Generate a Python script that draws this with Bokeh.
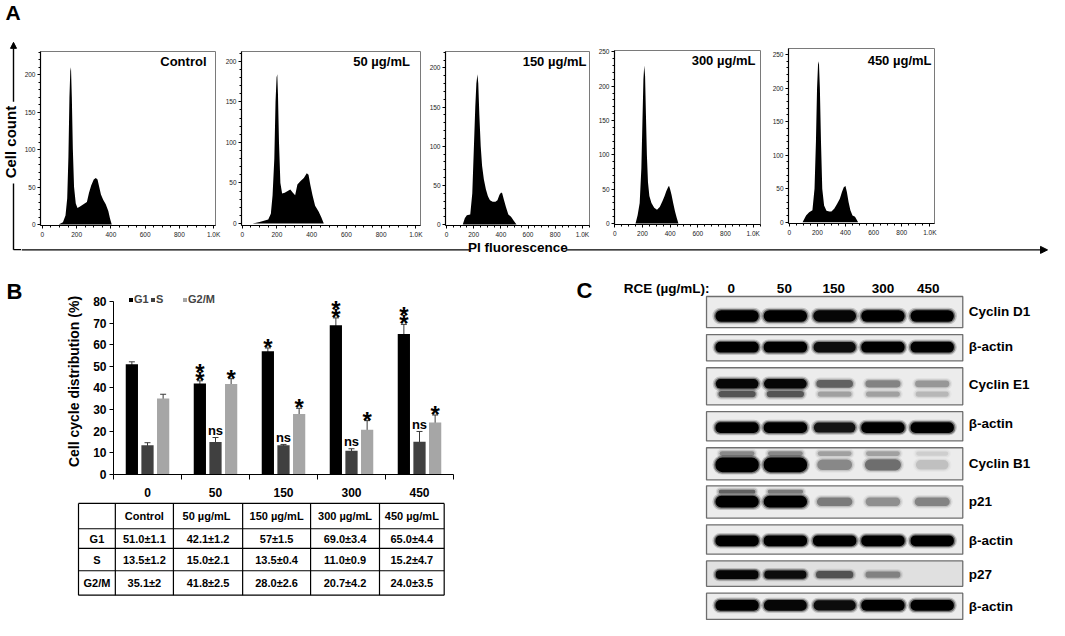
import math
from bokeh.plotting import figure
from bokeh.layouts import row, column
from bokeh.models import (Range1d, FixedTicker, SingleIntervalTicker, Label, Arrow,
                          NormalHead, Legend, LegendItem, Whisker, TeeHead, ColumnDataSource)
from bokeh.core.properties import value
from bokeh.embed import file_html
from bokeh.resources import INLINE

# ---------------- DATA ----------------
# Panel A: DNA histograms (PI fluorescence channel, cell count)
ctrl_x = [95, 120, 135, 145, 152, 158, 163, 167, 172, 178, 185, 195, 205, 220, 240, 260, 272, 285, 300, 312, 322, 332, 342, 355, 370, 385, 395, 405]
ctrl_n = [0, 3, 12, 35, 90, 170, 205, 210, 170, 100, 50, 28, 22, 24, 27, 30, 42, 52, 60, 62, 60, 50, 40, 33, 27, 18, 8, 0]
d50_x = [60, 100, 150, 165, 175, 185, 192, 198, 202, 206, 212, 220, 230, 245, 262, 277, 292, 305, 318, 335, 355, 372, 382, 392, 405, 420, 440, 455, 470]
d50_n = [0, 2, 5, 12, 35, 80, 150, 180, 184, 160, 100, 50, 37, 38, 40, 42, 38, 35, 48, 52, 56, 62, 60, 48, 35, 22, 15, 8, 0]
d150_x = [120, 135, 150, 175, 190, 202, 212, 220, 228, 234, 242, 252, 262, 275, 290, 305, 320, 340, 360, 375, 390, 402, 410, 422, 438, 455, 475, 495, 515]
d150_n = [0, 8, 12, 13, 40, 100, 150, 180, 192, 180, 140, 100, 75, 58, 45, 36, 31, 29, 29, 31, 38, 41, 40, 32, 22, 13, 10, 5, 0]
d300_x = [150, 165, 180, 192, 200, 207, 213, 219, 225, 232, 240, 250, 265, 285, 305, 325, 345, 360, 372, 385, 392, 400, 410, 422, 435, 448, 460]
d300_n = [0, 12, 30, 80, 150, 210, 230, 215, 160, 100, 60, 40, 30, 23, 20, 24, 33, 40, 47, 53, 55, 50, 42, 30, 18, 8, 0]
d450_x = [95, 120, 142, 165, 180, 190, 198, 205, 211, 218, 226, 235, 248, 265, 285, 300, 320, 340, 360, 375, 388, 400, 410, 422, 435, 450, 468, 490]
d450_n = [0, 10, 15, 18, 50, 120, 200, 235, 240, 200, 120, 50, 25, 17, 16, 16, 20, 27, 35, 45, 52, 54, 45, 30, 18, 10, 8, 0]
hist_labels = ["Control", "50  µg/mL", "150 µg/mL", "300 µg/mL", "450 µg/mL"]

# Panel B: cell-cycle distribution (%)
doses = ["0", "50", "150", "300", "450"]
phases = ["G1", "S", "G2/M"]
g1_mean = [51.0, 42.1, 57.0, 69.0, 65.0]
g1_err = [1.1, 1.2, 1.5, 3.4, 4.4]
s_mean = [13.5, 15.0, 13.5, 11.0, 15.2]
s_err = [1.2, 2.1, 0.4, 0.9, 4.7]
g2m_mean = [35.1, 41.8, 28.0, 20.7, 24.0]
g2m_err = [2.0, 2.5, 2.6, 4.2, 3.5]
g1_sig = ["", "**", "*", "**", "**"]
s_sig = ["", "ns", "ns", "ns", "ns"]
g2m_sig = ["", "*", "*", "*", "*"]
y_ticks = [0, 10, 20, 30, 40, 50, 60, 70, 80]

table_header = ["", "Control", "50  µg/mL", "150 µg/mL", "300 µg/mL", "450 µg/mL"]
table_rows = ["G1", "S", "G2/M"]
table_g1 = ["51.0±1.1", "42.1±1.2", "57±1.5", "69.0±3.4", "65.0±4.4"]
table_s = ["13.5±1.2", "15.0±2.1", "13.5±0.4", "11.0±0.9", "15.2±4.7"]
table_g2m = ["35.1±2", "41.8±2.5", "28.0±2.6", "20.7±4.2", "24.0±3.5"]

# Panel C: western blot band darkness (0 = none, 1 = saturated)
blot_lanes = ["0", "50", "150", "300", "450"]
blot_proteins = ["Cyclin D1", "β-actin", "Cyclin E1", "β-actin", "Cyclin B1", "p21", "β-actin", "p27", "β-actin"]
cyclin_d1 = [1.0, 1.0, 0.95, 1.0, 1.0]
actin_1 = [1.0, 1.0, 0.9, 1.0, 1.0]
cyclin_e1 = [0.95, 0.95, 0.45, 0.32, 0.25]
cyclin_e1_lower = [0.5, 0.5, 0.22, 0.22, 0.15]
actin_2 = [1.0, 1.0, 0.85, 1.0, 1.0]
cyclin_b1 = [1.0, 1.0, 0.3, 0.4, 0.12]
cyclin_b1_upper = [0.3, 0.3, 0.22, 0.22, 0.08]
p21 = [1.0, 1.0, 0.35, 0.28, 0.32]
p21_upper = [0.45, 0.35, 0.0, 0.0, 0.0]
actin_3 = [1.0, 1.0, 1.0, 1.0, 1.0]
p27 = [0.95, 0.9, 0.5, 0.3, 0.0]
actin_4 = [1.0, 0.95, 0.9, 1.0, 1.0]

# ---------------- LAYOUT HELPERS ----------------
SX = 1049 / 1065
SY = 620 / 636


def sx(v):
    return int(round(v * SX))


def sy(v):
    return int(round(v * SY))


FONT = "Liberation Sans"


def px_fig(x0, x1, y0, y1):
    p = figure(width=sx(x1) - sx(x0), height=sy(y1) - sy(y0),
               x_range=Range1d(x0, x1), y_range=Range1d(y1, y0),
               output_backend="svg", toolbar_location=None,
               x_axis_location=None, y_axis_location=None,
               min_border=0, min_border_left=0, min_border_right=0,
               min_border_top=0, min_border_bottom=0)
    p.grid.visible = False
    p.outline_line_color = None
    return p


def txt(p, x, y, t, size, align="left", baseline="middle", bold=True, angle=0, color="black"):
    p.text(x=x, y=y, text=t, text_font=value(FONT), text_font_size=size,
           text_font_style="bold" if bold else "normal", text_align=align,
           text_baseline=baseline, angle=angle, text_color=color)


# ---------------- PANEL A ----------------
pa = px_fig(0, 21, 0, 262)
txt(pa, [5], [12], ["A"], "21px")
txt(pa, [9.5], [145.5], ["Cell count"], "15px", align="center", angle=math.pi / 2)
pa.segment(x0=[13, 13], y0=[256, 256], x1=[13, 21], y1=[188, 256], line_color="black", line_width=1.4)
pa.add_layout(Arrow(end=NormalHead(size=6, fill_color="black", line_color="black"),
                    x_start=13, y_start=104, x_end=13, y_end=43, line_color="black", line_width=1.4))

ppi = px_fig(21, 1065, 246, 262)
ppi.segment(x0=[21], y0=[256], x1=[476], y1=[256], line_color="black", line_width=1.4)
ppi.add_layout(Arrow(end=NormalHead(size=7, fill_color="black", line_color="black"),
                     x_start=574, y_start=256, x_end=1063, y_end=256, line_color="black", line_width=1.4))
txt(ppi, [525], [253], ["PI fluorescence"], "13.5px", align="center")


def hist_fig(x0, x1, fl, fr, ft, fb, xr, yr, xs, ns, label, inset, drop):
    p = figure(width=sx(x1) - sx(x0), height=sy(246),
               x_range=Range1d(*xr), y_range=Range1d(*yr),
               output_backend="svg", toolbar_location=None,
               min_border_left=sx(fl) - sx(x0), min_border_right=sx(x1) - sx(fr),
               min_border_top=sy(ft), min_border_bottom=sy(246) - sy(fb))
    p.varea(x=xs, y1=[0] * len(xs), y2=ns, fill_color="black")
    p.grid.visible = False
    p.outline_line_color = "#7a7a7a"
    p.xaxis.ticker = SingleIntervalTicker(interval=200, num_minor_ticks=4)
    p.yaxis.ticker = SingleIntervalTicker(interval=50, num_minor_ticks=5)
    p.xaxis.major_label_overrides = {1000: "1.0K"}
    for ax in (p.xaxis[0], p.yaxis[0]):
        ax.major_label_text_font = FONT
        ax.major_label_text_font_size = "6.5px"
        ax.major_label_text_color = "#222222"
        ax.major_tick_out = 3
        ax.major_tick_in = 0
        ax.minor_tick_out = 2
        ax.minor_tick_in = 0
        ax.axis_line_color = "black"
        ax.axis_line_width = 1.2
        ax.major_tick_line_color = "black"
        ax.minor_tick_line_color = "black"
        ax.major_label_standoff = 2
    p.add_layout(Label(x=xr[1], y=yr[1], x_offset=-inset, y_offset=-drop, text=label,
                       text_align="right", text_baseline="middle", text_font=FONT,
                       text_font_size="13px", text_font_style="bold", text_color="black"))
    return p


h1 = hist_fig(21, 224, 37, 218, 52, 232, (-11, 1011), (-1.3, 231), ctrl_x, ctrl_n, hist_labels[0], 9, 9.5)
h2 = hist_fig(224, 432, 245, 426, 52, 232, (-4, 1027), (-2.4, 212), d50_x, d50_n, hist_labels[1], 7, 9.5)
h3 = hist_fig(432, 604, 449, 598, 52, 232, (-7, 1052), (-1.2, 221), d150_x, d150_n, hist_labels[2], 3, 10)
h4 = hist_fig(604, 778, 623, 772, 51, 230, (-2, 1053), (-1.4, 252), d300_x, d300_n, hist_labels[3], 5, 9.5)
h5 = hist_fig(778, 1065, 800, 948, 49, 229, (-5, 1033), (-1.9, 259), d450_x, d450_n, hist_labels[4], 3, 12)

# ---------------- PANEL B ----------------
pbs = px_fig(0, 60, 262, 636)
txt(pbs, [6], [298.6], ["B"], "22px")

Y_TOP = 86.0   # frame top sits above the 80 tick so the legend fits inside
FRAME_TOP = 491 - Y_TOP * (491 - 309) / 80.0
pb = figure(width=sx(580) - sx(60), height=sy(512) - sy(262),
            x_range=Range1d(-0.5, 4.5), y_range=Range1d(0, Y_TOP),
            output_backend="svg", toolbar_location=None,
            min_border_left=sx(115) - sx(60), min_border_right=sx(580) - sx(460),
            min_border_top=sy(FRAME_TOP) - sy(262), min_border_bottom=sy(512) - sy(491))
pb.grid.visible = False
pb.outline_line_color = None
PX = Y_TOP / (sy(491) - sy(FRAME_TOP))  # data units per screen pixel

centers = list(range(len(doses)))
series = [(phases[0], g1_mean, g1_err, g1_sig, "#000000", -0.23),
          (phases[1], s_mean, s_err, s_sig, "#404040", 0.0),
          (phases[2], g2m_mean, g2m_err, g2m_sig, "#a6a6a6", 0.23)]
renderers = []
for name, means, errs, sig, color, off in series:
    xs = [c + off for c in centers]
    hi = [m + e for m, e in zip(means, errs)]
    src = ColumnDataSource(dict(x=xs, top=means,
                                lo=[m - e for m, e in zip(means, errs)], hi=hi))
    r = pb.vbar(x="x", top="top", width=0.18, source=src, fill_color=color, line_color=None)
    renderers.append(r)
    pb.add_layout(Whisker(source=src, base="x", lower="lo", upper="hi",
                          line_color="#3a3a3a", line_width=1,
                          upper_head=TeeHead(size=6, line_color="#3a3a3a", line_width=1),
                          lower_head=TeeHead(size=6, line_color="#3a3a3a", line_width=1)))
    # lower (or only) asterisk
    txt(pb, xs, [h + 0.5 * PX for h in hi], ["*" if s in ("*", "**") else "" for s in sig], "24px", align="center")
    # upper asterisk of a "**" pair
    txt(pb, xs, [h + 9.0 * PX for h in hi], ["*" if s == "**" else "" for s in sig], "24px", align="center")
    txt(pb, xs, [h + 7.5 * PX for h in hi], [s if s == "ns" else "" for s in sig], "13px", align="center")

for r, lab, vx in zip(renderers, phases, [15.7, 37.7, 70.0]):
    leg = Legend(items=[LegendItem(label=lab, renderers=[r])],
                 location=(sx(vx), sy(491) - sy(318)), orientation="horizontal",
                 glyph_width=5, glyph_height=5, label_standoff=1, padding=0, margin=0,
                 spacing=0, border_line_color=None, background_fill_alpha=0,
                 label_text_font=FONT, label_text_font_style="bold",
                 label_text_font_size="11px", label_height=11)
    pb.add_layout(leg)

pb.xaxis.ticker = FixedTicker(ticks=centers, minor_ticks=[c - 0.5 for c in centers] + [centers[-1] + 0.5])
pb.xaxis.major_label_overrides = {c: d for c, d in zip(centers, doses)}
pb.yaxis.ticker = FixedTicker(ticks=y_ticks)
pb.yaxis.bounds = (0, 80)
pb.yaxis.axis_label = "Cell cycle distribution (%)"
for ax in (pb.xaxis[0], pb.yaxis[0]):
    ax.major_label_text_font = FONT
    ax.major_label_text_font_style = "bold"
    ax.major_label_text_font_size = "12px"
    ax.major_label_text_color = "black"
    ax.axis_line_color = "black"
    ax.major_tick_line_color = "black"
    ax.minor_tick_line_color = "black"
    ax.major_tick_in = 0
    ax.minor_tick_in = 0
pb.yaxis.major_tick_out = 4
pb.yaxis.minor_tick_out = 0
pb.yaxis.major_label_standoff = 3
pb.yaxis.axis_label_text_font = FONT
pb.yaxis.axis_label_text_font_style = "bold"
pb.yaxis.axis_label_text_font_size = "14px"
pb.yaxis.axis_label_text_color = "black"
pb.yaxis.axis_label_standoff = 8
pb.xaxis.major_tick_out = 0
pb.xaxis.minor_tick_out = 5
pb.xaxis.major_label_standoff = 8

# table
ptab = px_fig(60, 580, 512, 636)
row_y = [516, 542, 562, 585, 610]
col_x = [79.3, 116.7, 175.7, 246, 315, 385, 450.7]
ptab.segment(x0=[col_x[0]] * len(row_y), x1=[col_x[-1]] * len(row_y), y0=row_y, y1=row_y,
             line_color="black", line_width=1.2)
ptab.segment(x0=col_x, x1=col_x, y0=[row_y[0]] * len(col_x), y1=[row_y[-1]] * len(col_x),
             line_color="black", line_width=1.2)
ccx = [(a + b) / 2 for a, b in zip(col_x[:-1], col_x[1:])]
rcy = [(a + b) / 2 for a, b in zip(row_y[:-1], row_y[1:])]
cells_x, cells_y, cells_t = [], [], []
for j, h in enumerate(table_header):
    cells_x.append(ccx[j]); cells_y.append(rcy[0]); cells_t.append(h)
for i, (lab, vals) in enumerate(zip(table_rows, [table_g1, table_s, table_g2m])):
    cells_x.append(ccx[0]); cells_y.append(rcy[i + 1]); cells_t.append(lab)
    for j, v in enumerate(vals):
        cells_x.append(ccx[j + 1]); cells_y.append(rcy[i + 1]); cells_t.append(v)
txt(ptab, cells_x, cells_y, cells_t, "11px", align="center")

# ---------------- PANEL C ----------------
pc = px_fig(580, 1065, 262, 636)
txt(pc, [585], [298], ["C"], "22px")
txt(pc, [633], [296], ["RCE (µg/mL):"], "13.5px")
lane_x = [748, 797, 847, 896, 946]
lane_label_x = [742, 796, 846, 896, 942]
txt(pc, lane_label_x, [296] * 5, blot_lanes, "13.5px", align="center")

box_top = [304, 343, 377, 422, 459, 498, 538, 575, 608]
box_bot = [336, 370, 415, 452, 492, 531, 568, 601, 635]
label_y = [319.5, 355.5, 394, 434, 475.5, 514, 554, 589, 622]
box_fill = ["#ececec"] * 7 + ["#e0e0e0", "#ececec"]
pc.quad(left=[717] * 9, right=[977] * 9, top=box_top, bottom=box_bot,
        fill_color=box_fill, line_color="#6e6e6e", line_width=1.3)
txt(pc, [983] * 9, label_y, blot_proteins, "13.5px")

bands = [(cyclin_d1, 324, 12), (actin_1, 356, 11), (cyclin_e1, 393.5, 10),
         (cyclin_e1_lower, 404, 8), (actin_2, 438.3, 11), (cyclin_b1, 476.5, 15),
         (cyclin_b1_upper, 465, 7), (p21, 514.3, 12), (p21_upper, 504, 5),
         (actin_3, 554.3, 11), (p27, 589, 9), (actin_4, 620.5, 11)]
# soft-edged bands: three nested rounded layers of decreasing size
layers = [(6.0, 5.0, 0.18), (3.0, 2.5, 0.4), (0.0, 0.0, 1.0)]
for vals, yc, bh in bands:
    for grow_w, grow_h, alpha_k in layers:
        L, R, T, B, A = [], [], [], [], []
        for xc, v in zip(lane_x, vals):
            if v <= 0:
                continue
            w = 44 * (0.72 + 0.28 * v) + grow_w
            h = bh * (0.6 + 0.4 * v) + grow_h
            L.append(xc - w / 2); R.append(xc + w / 2)
            T.append(yc - h / 2); B.append(yc + h / 2)
            A.append(min(1.0, v * alpha_k))
        pc.quad(left=L, right=R, top=T, bottom=B, fill_color="black", fill_alpha=A,
                line_color=None, border_radius=int((bh + grow_h) / 2))

# ---------------- ASSEMBLE ----------------
hist_row = row(column(h1), column(h2), column(h3), column(h4), column(h5))
top = row(pa, column(hist_row, ppi))
left = row(column(pbs), column(row(pb), row(ptab)))
bottom = row(left, pc)
layout = column(top, bottom)

open("out.html", "w").write(file_html(layout, INLINE))
